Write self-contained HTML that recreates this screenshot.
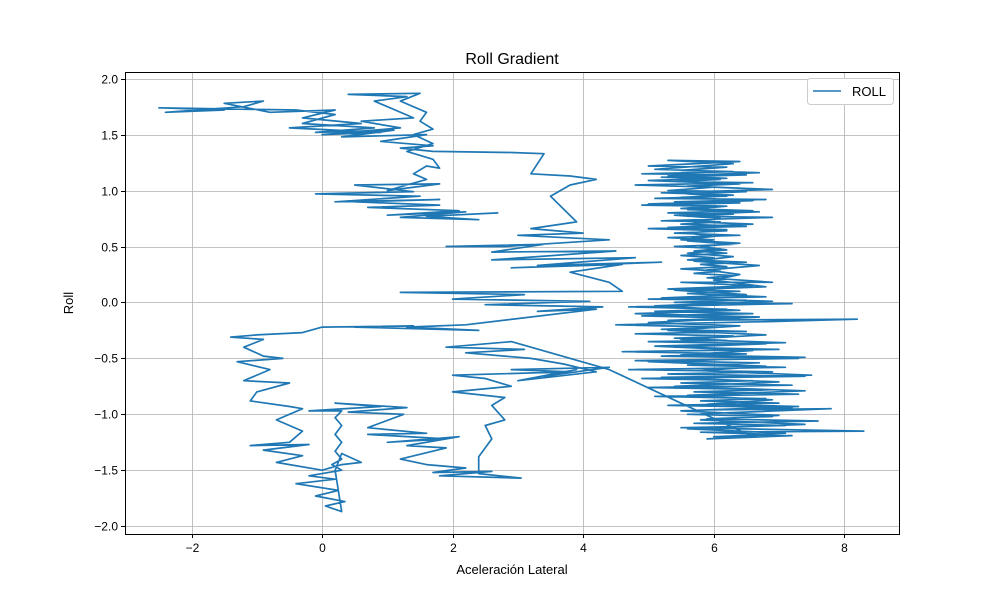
<!DOCTYPE html>
<html><head><meta charset="utf-8"><style>
body{margin:0;background:#fff;}
svg text{font-family:"Liberation Sans","DejaVu Sans",sans-serif;}
</style></head><body>
<svg id="chart" width="1000" height="600" xmlns="http://www.w3.org/2000/svg">
<rect width="1000" height="600" fill="#fff"/>
<g id="grid"></g>
<g id="ticks"></g>
<clipPath id="clip"><rect x="125" y="72" width="774" height="462"/></clipPath>
<g clip-path="url(#clip)"><path id="line" fill="none" stroke="#1f77b4" stroke-width="1.7" stroke-linejoin="round"/></g>
<rect x="125.5" y="72.5" width="774" height="462" fill="none" stroke="#000" stroke-width="1"/>
<text x="512" y="64" font-size="16" text-anchor="middle">Roll Gradient</text>
<text x="512" y="574" font-size="13" text-anchor="middle">Aceleración Lateral</text>
<text x="73" y="303" font-size="13" text-anchor="middle" transform="rotate(-90 73 303)">Roll</text>
<g>
<rect x="807.5" y="78.5" width="86" height="26" rx="3" fill="#fff" stroke="#ccc"/>
<line x1="813" y1="91" x2="841" y2="91" stroke="#1f77b4" stroke-width="1.5"/>
<text x="852" y="96" font-size="13">ROLL</text>
</g>
</svg>
<script>
const xTicks=[-2,0,2,4,6,8];
const yTicks=[-2.0,-1.5,-1.0,-0.5,0.0,0.5,1.0,1.5,2.0];
const pathPoints=[
[2.7,0.8],[1.6,0.77],[2.4,0.74],[1.2,0.76],[2.2,0.81],[1.0,0.78],[2.1,0.82],[0.7,0.85],[1.8,0.87],[0.5,0.9],[1.8,0.92],[0.2,0.9],[1.5,0.95],[-0.1,0.97],[1.4,0.99],[0.5,1.05],[1.8,1.06],[1.0,1.0],[1.6,1.1],[1.4,1.15],[1.6,1.22],[1.8,1.2],[1.7,1.28],[1.3,1.35],[1.7,1.42],[1.4,1.5],[1.7,1.55],[1.5,1.62],[1.6,1.7],
[1.2,1.8],[1.5,1.87],[0.4,1.86],[1.3,1.84],[0.8,1.8],[1.4,1.65],[0.6,1.62],[1.2,1.56],[0,1.5],[0.9,1.52],[-0.5,1.56],[0.6,1.6],[-0.3,1.65],[0.2,1.72],[-0.8,1.7],[-1.5,1.78],[-0.9,1.8],[-1.2,1.75],[-2.4,1.7],[-1.5,1.72],[-2.5,1.74],[-0.4,1.72],[0.2,1.68],[-0.3,1.6],[0.8,1.56],[-0.1,1.52],[1.1,1.54],[0.3,1.48],[1.6,1.5],[0.9,1.44],[1.7,1.4],[1.2,1.38],[1.7,1.35],
[2.9,1.34],[3.4,1.33],[3.2,1.15],[3.8,1.13],[4.2,1.1],[3.8,1.05],[3.5,0.95],[3.9,0.72],[3.2,0.66],[4.0,0.62],[3.0,0.6],[4.4,0.56],[2.8,0.5],[1.9,0.5],[3.4,0.52],[2.6,0.45],[4.5,0.46],[2.6,0.38],[4.8,0.4],[3.3,0.33],[5.2,0.36],[2.9,0.31],[4.6,0.34],[3.8,0.27],[4.4,0.18],[4.6,0.1],[1.2,0.09],[3.1,0.07],[2.0,0.03],[4.1,0.01],[2.5,-0.02],[4.3,-0.04],[3.3,-0.08],[4.2,-0.06],[2.2,-0.2],[1.3,-0.22],[2.4,-0.25],[0.5,-0.22],[1.4,-0.21],[0,-0.22],[-0.3,-0.27],[-1.0,-0.29],[-1.4,-0.31],[-0.9,-0.33],[-1.2,-0.4],[-0.9,-0.48],[-0.6,-0.5],[-1.3,-0.53],[-0.8,-0.6],[-1.2,-0.7],[-0.5,-0.72],[-1.0,-0.8],[-1.1,-0.88],[-0.5,-0.93],[-0.3,-0.95],[-0.7,-1.05],[-0.3,-1.15],[-0.5,-1.25],[-1.1,-1.28],[-0.2,-1.27],[-0.9,-1.32],[-0.3,-1.37],[-0.7,-1.43],[0.0,-1.5],[0.3,-1.45],[0.6,-1.43],[0.3,-1.35],[0.2,-1.5],
[0.3,-1.87],[0.05,-1.82],[0.35,-1.78],[-0.1,-1.73],[0.25,-1.68],[-0.4,-1.62],[0.2,-1.58],[-0.2,-1.55],[0.3,-1.5],[0.15,-1.45],[0.3,-1.4],[0.2,-1.33],[0.3,-1.25],[0.2,-1.18],[0.3,-1.1],[0.2,-1.03],[0.3,-0.97],
[-0.2,-0.97],[0.9,-0.93],[0.2,-0.9],[1.3,-0.94],[0.4,-0.98],[1.25,-1.0],[0.7,-1.12],[1.6,-1.17],[0.7,-1.18],[1.9,-1.22],[1.0,-1.25],[2.1,-1.2],[1.3,-1.28],[1.9,-1.3],[1.2,-1.4],[1.6,-1.45],[2.2,-1.48],[1.7,-1.52],[2.6,-1.51],[1.8,-1.55],[3.05,-1.57],[2.4,-1.53],[2.4,-1.38],[2.6,-1.22],[2.5,-1.1],[2.8,-1.05],[2.6,-0.92],[2.8,-0.85],
[2.0,-0.8],[2.9,-0.75],[2.5,-0.68],[2.0,-0.65],[3.8,-0.62],[2.9,-0.6],[4.4,-0.58],[3.4,-0.66],[3.9,-0.6],[3.0,-0.7],[4.2,-0.62],[3.7,-0.55],[3.2,-0.5],[2.2,-0.45],[3.1,-0.42],[1.9,-0.4],[2.9,-0.35],[4.4,-0.6],
[6.6,-1.2],[5.9,-1.22],[7.2,-1.19],[6.0,-1.2],[6.9,-1.18],[5.8,-1.16],[8.3,-1.15],[5.5,-1.12],[7.1,-1.1],[5.7,-1.08],[7.6,-1.06],[5.9,-1.04],[6.9,-1.02],[5.6,-1.0],[7.8,-0.95],[6.0,-0.96],[7.2,-0.94],[5.3,-0.92],[7.0,-0.9],[5.8,-0.88],[6.8,-0.86],[5.1,-0.84],[7.3,-0.82],[5.7,-0.8],[6.9,-0.78],[5.0,-0.76],[7.2,-0.74],[5.5,-0.72],[6.6,-0.7],[4.9,-0.68],[7.4,-0.66],[5.3,-0.64],[6.9,-0.62],[4.7,-0.6],[7.1,-0.58],[5.6,-0.56],[6.7,-0.54],[4.8,-0.52],[7.3,-0.5],[5.2,-0.48],[6.5,-0.46],[4.6,-0.44],[7.0,-0.42],[5.4,-0.4],[6.8,-0.37],[5.0,-0.35],
[6.2,-0.34],[5.4,-0.32],[6.3,-0.3],[4.8,-0.28],[6.5,-0.26],[5.2,-0.24],[6.1,-0.22],[4.5,-0.2],[6.9,-0.17],[8.2,-0.15],[5.3,-0.16],[6.4,-0.14],[4.9,-0.12],[6.6,-0.1],[5.1,-0.08],[6.2,-0.06],[4.7,-0.04],[7.2,-0.01],[5.4,0.0],[6.5,0.02],[5.0,0.03],[6.8,0.05],[5.6,0.08],[6.4,0.1],[5.3,0.12],[6.6,0.15],[5.5,0.18],[6.9,0.18],[5.9,0.22],[6.3,0.24],[5.7,0.26],[6.1,0.28],[5.5,0.3],[6.2,0.32],[5.8,0.34],[6.5,0.36],[5.6,0.38],[6.0,0.4],[5.5,0.42],[6.2,0.44],[5.7,0.46],[6.1,0.48],[5.4,0.5],[6.3,0.52],[5.6,0.55],[6.0,0.56],[5.3,0.58],[6.4,0.6],[5.4,0.62],[6.2,0.64],[5.0,0.66],[6.5,0.68],[5.5,0.7],[6.1,0.72],[5.2,0.73],[6.9,0.76],[5.6,0.77],[6.3,0.79],[5.3,0.8],[6.6,0.82],[5.5,0.84],[6.0,0.86],[4.9,0.87],[6.4,0.89],[5.4,0.9],[6.8,0.92],[5.1,0.93],[6.2,0.95],[5.6,0.97],[6.5,0.99],[5.3,1.0],[6.0,1.03],[4.8,1.05],[6.6,1.07],[5.4,1.08],[6.1,1.1],[5.2,1.12],[6.5,1.14],[4.9,1.15],[6.3,1.17],[5.5,1.18],[6.2,1.21],[5.0,1.22],[6.4,1.26],[5.3,1.27],[6.3,1.24],
[5.1,1.19],[6.7,1.16],[5.3,1.13],[6.2,1.11],[5.0,1.09],[6.4,1.06],[5.6,1.04],[6.9,1.01],[5.2,0.98],[6.3,0.96],[5.5,0.94],[6.6,0.91],[5.0,0.88],[6.2,0.86],[5.6,0.83],[6.7,0.81],[5.4,0.78],[6.1,0.75],[5.7,0.72],[6.6,0.7],[5.3,0.67],[6.2,0.65],[5.6,0.62],[6.0,0.59],[5.5,0.56],[6.4,0.53],[5.8,0.5],[6.2,0.47],[5.6,0.44],[6.3,0.41],[5.7,0.37],[6.7,0.33],[5.9,0.29],[6.4,0.25],[6.0,0.2],[6.8,0.14],[5.4,0.11],[6.5,0.07],[5.2,0.04],[6.9,0.01],[5.1,-0.03],[6.4,-0.07],[4.8,-0.1],[6.7,-0.13],[5.0,-0.18],[6.4,-0.21],[5.3,-0.25],[6.8,-0.29],[5.5,-0.33],[7.1,-0.36],[5.1,-0.39],[6.6,-0.43],[5.5,-0.47],[7.4,-0.49],[5.0,-0.53],[6.8,-0.57],[5.8,-0.61],[7.5,-0.65],[5.2,-0.67],[7.0,-0.71],[5.4,-0.75],[7.4,-0.79],[5.6,-0.83],[6.9,-0.87],[5.9,-0.91],[7.3,-0.93],[5.5,-0.97],[7.0,-1.01],[5.8,-1.05],[7.4,-1.09],[5.6,-1.13],[7.1,-1.17],[6.1,-1.21]
];
const X0=-3.02,X1=8.84,Y0=-2.07,Y1=2.06,L=125,R=899,T=72,B=534;
const sx=v=>L+(v-X0)/(X1-X0)*(R-L);
const sy=v=>B-(v-Y0)/(Y1-Y0)*(B-T);
const NS='http://www.w3.org/2000/svg';
const grid=document.getElementById('grid'),ticks=document.getElementById('ticks');
function mk(tag,attrs,parent){const e=document.createElementNS(NS,tag);for(const k in attrs)e.setAttribute(k,attrs[k]);parent.appendChild(e);return e;}
xTicks.forEach(v=>{const x=Math.round(sx(v))+0.5;
 const g=mk('line',{x1:x,x2:x,y1:T,y2:B,stroke:'#b0b0b0','stroke-width':0.8},grid);
 
 
 const t=mk('line',{x1:x,x2:x,y1:B,y2:B+4,stroke:'#000'},ticks);
 
 
 const l=mk('text',{x:x,y:B+18,'font-size':12,'text-anchor':'middle'},ticks);
 l.textContent=(v<0?'\u2212':'')+Math.abs(v);
 
 });
yTicks.forEach(v=>{const y=Math.round(sy(v))+0.5;
 const g=mk('line',{x1:L,x2:R,y1:y,y2:y,stroke:'#b0b0b0','stroke-width':0.8},grid);
 
 
 const t=mk('line',{x1:L-4,x2:L,y1:y,y2:y,stroke:'#000'},ticks);
 
 
 const l=mk('text',{x:L-7,y:y+4,'font-size':12,'text-anchor':'end'},ticks);
 l.textContent=(v<0?'\u2212':'')+Math.abs(v).toFixed(1);
 
 });
document.getElementById('line').setAttribute('d',pathPoints.map((p,i)=>(i?'L':'M')+sx(p[0]).toFixed(1)+','+sy(p[1]).toFixed(1)).join(''));
</script>
</body></html>
